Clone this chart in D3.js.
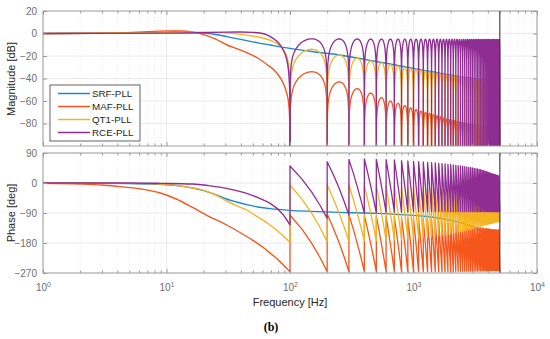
<!DOCTYPE html>
<html lang="en">
<head>
  <meta charset="UTF-8">
  <title>PLL Bode (b)</title>
  <style>
    body { margin: 0; background: #fff; }
    svg { display: block; font-family: "Liberation Sans", Arial, sans-serif; }
  </style>
</head>
<body>
  <script src="https://cdn.jsdelivr.net/npm/d3@7"></script>
  <script>
    // ---- values ----
    const seriesNames = ['SRF-PLL', 'MAF-PLL', 'QT1-PLL', 'RCE-PLL'];
    const seriesColors = ['#1b87d0', '#f4561c', '#f5b321', '#8f2d93'];
    const magTicks = [20, 0, -20, -40, -60, -80];
    const phaseTicks = [90, 0, -90, -180, -270];
    const freqTicks = [1, 10, 100, 1000, 10000];
    const nyquistHz = 5000;

    // SRF-PLL, smooth over the whole range [Hz, value]
    const srfMag = [[1,0],[4,0.2],[8,0.9],[12,1.2],[16,1],[20,0.5],[25,-0.9],[30.7,-2.8],[37,-4.6],[44.6,-6.3],[55,-8.3],[69,-10.2],[100,-13.2],[150,-16],[253,-19.1],[400,-23],[600,-26.5],[1000,-31],[1500,-34.5],[2000,-37],[3000,-40],[4000,-42],[5000,-43.5]];
    const srfPhase = [[1,-0.3],[3,-1],[5,-2],[8.9,-4],[12,-8],[16.4,-15],[20,-23],[25,-35],[30.7,-48],[37,-57],[44.6,-65],[55,-72],[69,-77],[100,-82],[150,-85],[253,-88],[500,-91],[1065,-98],[1600,-105],[2230,-116],[3000,-130],[3950,-153],[5000,-168]];

    // the other loops below the first notch (100 Hz)
    const mafMagLow = [[1,0],[4,0.5],[7,1.6],[10,2.3],[13,2.2],[16.4,1.2],[20,-1],[25,-5],[30.7,-10],[37,-13.5],[44.6,-17],[55,-22],[65,-27.5],[78,-35],[88,-44],[94,-53],[97.5,-62],[99.3,-75],[99.9,-95],[100,-200]];
    const mafPhaseLow = [[1,-1],[2,-3],[3,-6],[4.2,-11],[6,-17],[7.4,-23],[8.9,-30],[12,-48],[16.4,-74],[22,-100],[30.7,-126],[40,-150],[50,-172],[60,-192],[70,-212],[80,-230],[90,-249],[100,-266]];
    const qt1MagLow = [[1,0],[10,0.7],[20,1.2],[30,0.6],[40,-0.8],[50,-2.3],[57,-3.3],[68,-5.8],[78,-8.7],[86,-12.5],[92,-17.5],[96,-24],[98.5,-33],[99.6,-45],[100,-200]];
    const qt1PhaseLow = [[1,0],[5,-1],[8.9,-3],[16.4,-15],[20,-22],[25,-36],[30.7,-54],[37,-68],[44.6,-81],[55,-102],[69,-126],[80,-145],[90,-162],[100,-178]];
    const rceMagLow = [[1,0],[10,0.3],[20,0.8],[30,1.2],[40,1.3],[50,1],[57,0.5],[65,-1.2],[73,-4.3],[80,-7.8],[88,-14.7],[94,-23],[97,-32],[99,-45],[99.8,-60],[100,-200]];
    const rcePhaseLow = [[1,0],[5,0],[8.9,-1],[16.4,-3],[22,-8],[30.7,-16],[37,-23],[44.6,-31],[55,-44],[69,-61],[80,-79],[88,-95],[95,-113],[100,-126]];

    // notch frequencies (lobe k lies between notchHz[k] and notchHz[k+1])
    const notchHz = [100,200,300,400,500,600,700,800,900,1000,1100,1200,1300,1400,1500,1600,1700,1800,1900,2000,2100,2200,2300,2400,2500,2600,2700,2800,2900,3000,3100,3200,3300,3400,3500,3600,3700,3800,3900,4000,4100,4200,4300,4400,4500,4600,4700,4800,4900,5000];

    // lobe peaks [dB]
    const mafLobeDb = [-34,-43,-49,-53,-57,-60,-62,-64,-66,-67.5,-69,-70,-71,-72,-73,-74,-75,-76,-76.5,-77,-77.5,-78,-78.5,-79,-79.3,-79.6,-80,-80.3,-80.6,-81,-81.3,-81.6,-82,-82.3,-82.6,-83,-83.3,-83.6,-84,-84.3,-84.6,-85,-85.2,-85.4,-85.6,-85.8,-86,-86,-86];
    const qt1LobeDb = [-14,-19,-22,-24.3,-26,-27.5,-28.8,-30,-31,-31.8,-32.6,-33.3,-34,-34.6,-35.2,-35.7,-36.2,-36.6,-37,-37.4,-37.8,-38.1,-38.4,-38.7,-39,-39.3,-39.6,-39.9,-40.1,-40.3,-40.5,-40.7,-40.9,-41.1,-41.3,-41.5,-41.7,-41.9,-42,-42.2,-42.4,-42.5,-42.6,-42.7,-42.8,-42.9,-43,-43,-43];
    const rceLobeDb = [-4.7,-4.8,-4.9,-5,-5,-5,-5,-5,-5,-5,-5,-5,-5,-5,-5,-5.1,-5.1,-5.1,-5.1,-5.1,-5.1,-5.1,-5.2,-5.2,-5.2,-5.2,-5.2,-5.2,-5.2,-5.2,-5.2,-5.2,-5.2,-5.3,-5.3,-5.3,-5.3,-5.3,-5.3,-5.3,-5.3,-5.3,-5.3,-5.3,-5.3,-5.3,-5.3,-5.3,-5.3];

    // phase teeth: value just after each notch (top) and just before the next one (bottom) [deg]
    const mafTopDeg = [-96,-93,-95,-97,-99,-100,-102,-103,-105,-106,-108,-109,-111,-112,-114,-115,-116,-118,-119,-120,-122,-123,-124,-125,-126,-127,-128,-129,-130,-131,-132,-133,-133,-134,-135,-135,-136,-137,-137,-138,-138,-139,-139,-140,-140,-140,-141,-141,-141];
    const mafBotDeg = [-266,-266,-266,-266,-266,-266,-266,-266,-266,-266,-266,-266,-266,-266,-266,-266,-266,-266,-266,-266,-265,-265,-265,-265,-265,-265,-265,-265,-265,-265,-264,-264,-264,-264,-264,-264,-264,-264,-264,-264,-263,-263,-263,-263,-263,-263,-263,-263,-263];
    const qt1TopDeg = [-6,-6,-6,-7,-8,-9,-10,-11,-11,-12,-13,-14,-15,-16,-17,-18,-18,-19,-20,-21,-22,-23,-24,-25,-26,-27,-28,-29,-30,-31,-32,-33,-34,-35,-36,-37,-38,-39,-40,-40,-41,-42,-42,-43,-43,-44,-44,-45,-45];
    const qt1BotDeg = [-176,-175,-174,-173,-172,-171,-170,-168,-167,-165,-164,-163,-161,-160,-158,-157,-155,-154,-152,-150,-149,-147,-146,-144,-143,-141,-140,-138,-137,-135,-134,-133,-131,-130,-129,-127,-126,-125,-124,-123,-122,-121,-120,-119,-118,-117,-117,-116,-116];
    const rceTopDeg = [51,64,71,72,71,70,69,67,66,65,64,63,62,61,60,59,58,57,56,55,54,53,52,51,50,49,48,47,46,45,44,43,42,41,40,38.5,37,35.5,34,32.5,31,29.5,28,27,26,25,23.5,22.5,21];
    const rceBotDeg = [-106,-96,-91,-89,-88,-87,-87,-86,-86,-86,-86,-86,-86,-86,-86,-86,-86,-86,-86,-86,-86,-86,-86,-86,-86,-86,-86,-86,-86,-86,-86,-86,-86,-86,-86,-86,-86,-86,-86,-86,-86,-86,-86,-86,-86,-86,-86,-86,-86];

    // shape of one magnitude lobe: position in the lobe (0..1) and dB below its peak
    const lobeU  = [0, .003, .01, .025, .05, .08, .12, .17, .23, .3, .38, .45, .5, .55, .62, .7, .77, .83, .88, .92, .95, .975, .99, .997, 1];
    const lobeDb = [-200, -40.5, -30, -22.1, -16.1, -12.1, -8.7, -5.9, -3.6, -1.8, -0.6, -0.1, 0, -0.1, -0.6, -1.8, -3.6, -5.9, -8.7, -12.1, -16.1, -22.1, -30, -40.5, -200];
    // shape of one phase tooth: position in the tooth and share of the drop
    const toothU = [0, .25, .5, .75, 1];
    const toothDrop = [0, .25, .5, .75, 1];

    // ---- layout ----
    const W = 550, H = 339;
    const left = 43, right = 537;
    const magTop = 11, magBottom = 146, phTop = 153, phBottom = 273;
    const axisColor = '#9a9a9a', labelColor = '#6e6e6e';

    const svg = d3.select('body').append('svg').attr('width', W).attr('height', H);

    const x = d3.scaleLog().domain([1, 10000]).range([left, right]);
    const yMag = d3.scaleLinear().domain([-100, 20]).range([magBottom, magTop]);
    const yPh = d3.scaleLinear().domain([-270, 90]).range([phBottom, phTop]);

    const minorFreqs = [];
    [1, 10, 100, 1000].forEach(dec => { for (let m = 2; m <= 9; m++) minorFreqs.push(dec * m); });

    function lobes(peaks) {
      const pts = [];
      for (let k = 0; k < peaks.length && k + 1 < notchHz.length; k++) {
        const a = notchHz[k], b = notchHz[k + 1];
        lobeU.forEach((u, i) => {
          if (k > 0 && i === 0) return;
          pts.push([a + u * (b - a), peaks[k] + lobeDb[i]]);
        });
      }
      return pts;
    }

    function teeth(start, tops, bots) {
      const pts = [start];
      for (let k = 0; k < tops.length && k + 1 < notchHz.length; k++) {
        const a = notchHz[k], b = notchHz[k + 1];
        toothU.forEach((u, i) => {
          pts.push([a + u * (b - a), tops[k] + toothDrop[i] * (bots[k] - tops[k])]);
        });
      }
      return pts;
    }

    function panel(y, top, bottom, ticks, id) {
      const g = svg.append('g');
      const w = right - left, h = bottom - top;
      svg.append('defs').append('clipPath').attr('id', id)
        .append('rect').attr('x', left).attr('y', top).attr('width', w).attr('height', h);

      // grid
      g.append('g').selectAll('line.minor').data(minorFreqs).enter().append('line')
        .attr('x1', d => x(d)).attr('x2', d => x(d)).attr('y1', top).attr('y2', bottom)
        .attr('stroke', '#e3e3e3').attr('stroke-width', 0.7).attr('stroke-dasharray', '1,2');
      g.append('g').selectAll('line.major').data(freqTicks).enter().append('line')
        .attr('x1', d => x(d)).attr('x2', d => x(d)).attr('y1', top).attr('y2', bottom)
        .attr('stroke', '#e4e4e4').attr('stroke-width', 0.8);
      g.append('g').selectAll('line.h').data(ticks).enter().append('line')
        .attr('x1', left).attr('x2', right).attr('y1', d => y(d)).attr('y2', d => y(d))
        .attr('stroke', '#e4e4e4').attr('stroke-width', 0.8);

      const plot = svg.append('g').attr('clip-path', `url(#${id})`);

      // axes (ticks pointing inwards, like the original)
      const ax = svg.append('g');
      ax.append('g').attr('transform', `translate(${left},0)`)
        .call(d3.axisLeft(y).tickValues(ticks).tickSizeInner(-4).tickSizeOuter(0).tickPadding(6))
        .call(s => s.select('.domain').remove());
      ax.append('g').attr('transform', `translate(${right},0)`)
        .call(d3.axisRight(y).tickValues(ticks).tickSizeInner(-4).tickSizeOuter(0).tickFormat(''))
        .call(s => s.select('.domain').remove());
      [[top, d3.axisTop], [bottom, d3.axisBottom]].forEach(([yy, fn]) => {
        ax.append('g').attr('transform', `translate(0,${yy})`)
          .call(fn(x).tickValues(freqTicks).tickSizeInner(-4).tickSizeOuter(0).tickFormat(''))
          .call(s => s.select('.domain').remove());
        ax.append('g').attr('transform', `translate(0,${yy})`)
          .call(fn(x).tickValues(minorFreqs).tickSizeInner(-2.5).tickSizeOuter(0).tickFormat(''))
          .call(s => s.select('.domain').remove());
      });
      ax.selectAll('line').attr('stroke', axisColor);
      ax.selectAll('text').attr('fill', labelColor).attr('font-size', 10)
        .attr('font-family', '"Liberation Sans", Arial, sans-serif');

      return { plot, ax, top, bottom };
    }

    const mag = panel(yMag, magTop, magBottom, magTicks, 'clip-mag');
    const ph = panel(yPh, phTop, phBottom, phaseTicks, 'clip-ph');

    // frequency labels 10^k under the phase panel
    const xl = svg.append('g').attr('transform', `translate(0,${phBottom})`)
      .call(d3.axisBottom(x).tickValues(freqTicks).tickSize(0).tickPadding(11));
    xl.select('.domain').remove();
    xl.selectAll('.tick text').each(function (d) {
      const t = d3.select(this).text(null).attr('fill', labelColor).attr('font-size', 10)
        .attr('font-family', '"Liberation Sans", Arial, sans-serif');
      t.append('tspan').text('10');
      t.append('tspan').attr('dy', '-0.55em').attr('font-size', 7).text(Math.round(Math.log10(d)));
    });

    // curves
    const smooth = (y) => d3.line().x(d => x(d[0])).y(d => y(d[1])).curve(d3.curveMonotoneX);
    const straight = (y) => d3.line().x(d => x(d[0])).y(d => y(d[1]));

    function draw(target, y, lowPts, restPts, color) {
      target.append('path').attr('d', smooth(y)(lowPts))
        .attr('fill', 'none').attr('stroke', color).attr('stroke-width', 1.4).attr('stroke-linejoin', 'round');
      if (restPts) target.append('path').attr('d', straight(y)(restPts))
        .attr('fill', 'none').attr('stroke', color).attr('stroke-width', 1.3).attr('stroke-linejoin', 'round');
    }

    draw(mag.plot, yMag, srfMag, null, seriesColors[0]);
    draw(mag.plot, yMag, mafMagLow, lobes(mafLobeDb), seriesColors[1]);
    draw(mag.plot, yMag, qt1MagLow, lobes(qt1LobeDb), seriesColors[2]);
    draw(mag.plot, yMag, rceMagLow, lobes(rceLobeDb), seriesColors[3]);

    draw(ph.plot, yPh, srfPhase, null, seriesColors[0]);
    draw(ph.plot, yPh, mafPhaseLow, teeth(mafPhaseLow[mafPhaseLow.length - 1], mafTopDeg, mafBotDeg), seriesColors[1]);
    draw(ph.plot, yPh, qt1PhaseLow, teeth(qt1PhaseLow[qt1PhaseLow.length - 1], qt1TopDeg, qt1BotDeg), seriesColors[2]);
    draw(ph.plot, yPh, rcePhaseLow, teeth(rcePhaseLow[rcePhaseLow.length - 1], rceTopDeg, rceBotDeg), seriesColors[3]);

    // Nyquist line and panel boxes
    [[magTop, magBottom], [phTop, phBottom]].forEach(([t, b]) => {
      svg.append('line').attr('x1', x(nyquistHz)).attr('x2', x(nyquistHz)).attr('y1', t).attr('y2', b)
        .attr('stroke', '#3a3a3a').attr('stroke-width', 1.1);
      svg.append('rect').attr('x', left).attr('y', t).attr('width', right - left).attr('height', b - t)
        .attr('fill', 'none').attr('stroke', axisColor).attr('stroke-width', 0.9);
    });

    // legend
    const lg = svg.append('g');
    lg.append('rect').attr('x', 50).attr('y', 85).attr('width', 90).attr('height', 56)
      .attr('fill', '#fff').attr('stroke', '#3c3c3c').attr('stroke-width', 0.8);
    seriesNames.forEach((name, i) => {
      const yy = 93.5 + i * 13;
      lg.append('line').attr('x1', 58).attr('x2', 90).attr('y1', yy).attr('y2', yy)
        .attr('stroke', seriesColors[i]).attr('stroke-width', 1.5);
      lg.append('text').attr('x', 92).attr('y', yy + 3.5).attr('font-size', 9.8).attr('fill', '#262626').text(name);
    });

    // axis titles and caption
    svg.append('text').attr('transform', 'translate(15,79) rotate(-90)').attr('text-anchor', 'middle')
      .attr('font-size', 11).attr('fill', '#262626').text('Magnitude [dB]');
    svg.append('text').attr('transform', 'translate(15,213) rotate(-90)').attr('text-anchor', 'middle')
      .attr('font-size', 11).attr('fill', '#262626').text('Phase [deg]');
    svg.append('text').attr('x', (left + right) / 2).attr('y', 306).attr('text-anchor', 'middle')
      .attr('font-size', 11).attr('fill', '#262626').text('Frequency [Hz]');
    svg.append('text').attr('x', 271).attr('y', 331).attr('text-anchor', 'middle')
      .attr('font-family', '"Liberation Serif", "Times New Roman", serif').attr('font-weight', 'bold')
      .attr('font-size', 12).attr('fill', '#000').text('(b)');
  </script>
</body>
</html>
